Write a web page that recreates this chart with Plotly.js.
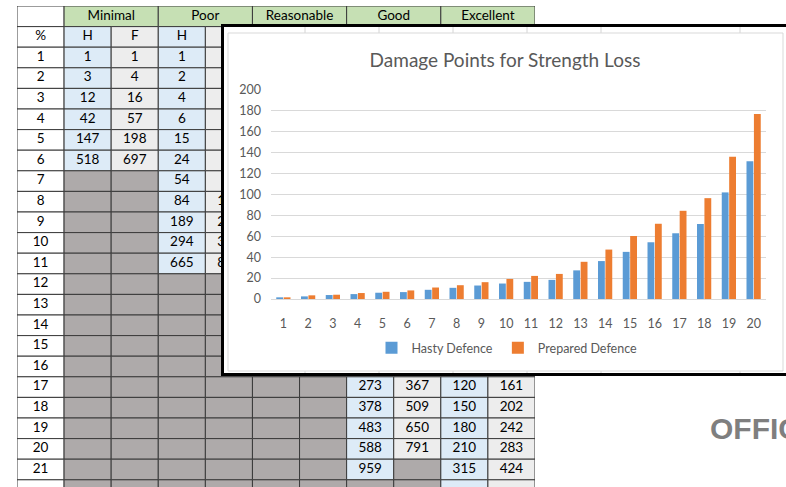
<!DOCTYPE html>
<html><head><meta charset="utf-8">
<script src="https://cdn.plot.ly/plotly-3.0.1.min.js"></script>
<style>html,body{margin:0;padding:0;background:#fff;overflow:hidden}</style>
</head><body><div id="chart" style="width:786px;height:487px"></div>
<script>
// ---------- Chart data ----------
const categories = ['1','2','3','4','5','6','7','8','9','10','11','12','13','14','15','16','17','18','19','20'];
const hastyDefence    = [1.6, 2.5, 3.8, 4.7, 6.0, 6.6, 8.8, 10.7, 12.9, 14.8, 16.4, 18.3, 27.4, 36.3, 45.1, 54.3, 62.9, 71.8, 102.0, 131.9];
const preparedDefence = [1.6, 3.5, 4.1, 5.7, 6.9, 8.2, 11.0, 13.2, 16.1, 19.2, 22.1, 24.0, 35.6, 47.3, 60.3, 72.0, 84.4, 96.5, 136.2, 177.1];
const yTicks = [0, 20, 40, 60, 80, 100, 120, 140, 160, 180, 200];
const seriesNames = ['Hasty Defence', 'Prepared Defence'];
const chartTitle = 'Damage Points for Strength Loss';

// ---------- Spreadsheet data ----------
const groups = ['Minimal', 'Poor', 'Reasonable', 'Good', 'Excellent'];
const subHeads = ['H', 'F'];
const cornerLabel = '%';
// last row is only partly visible at the bottom edge, its label is not shown
const rowLabels = ['1','2','3','4','5','6','7','8','9','10','11','12','13','14','15','16','17','18','19','20','21',''];
const X = 'x'; // blocked (grey) cell
const N = null; // cell hidden / empty
const minimalH    = [1, 3, 12, 42, 147, 518, X, X, X, X, X, X, X, X, X, X, X, X, X, X, X, X];
const minimalF    = [1, 4, 16, 57, 198, 697, X, X, X, X, X, X, X, X, X, X, X, X, X, X, X, X];
const poorH       = [1, 2, 4, 6, 15, 24, 54, 84, 189, 294, 665, X, X, X, X, X, X, X, X, X, X, X];
const poorF       = [N, N, N, N, N, N, N, 113, 254, 397, 898, X, X, X, X, X, X, X, X, X, X, X];
const reasonableH = [N, N, N, N, N, N, N, N, N, N, N, N, N, N, N, X, X, X, X, X, X, X];
const reasonableF = [N, N, N, N, N, N, N, N, N, N, N, N, N, N, N, X, X, X, X, X, X, X];
const goodH       = [N, N, N, N, N, N, N, N, N, N, N, N, N, N, N, N, 273, 378, 483, 588, 959, X];
const goodF       = [N, N, N, N, N, N, N, N, N, N, N, N, N, N, N, N, 367, 509, 650, 791, X, X];
const excellentH  = [N, N, N, N, N, N, N, N, N, N, N, N, N, N, N, N, 120, 150, 180, 210, 315, N];
const excellentF  = [N, N, N, N, N, N, N, N, N, N, N, N, N, N, N, N, 161, 202, 242, 283, 424, N];
const watermark = 'OFFICIAL';

// ---------- Build ----------
const W = 786, H = 487;
const sheetCols = [minimalH, minimalF, poorH, poorF, reasonableH, reasonableF, goodH, goodF, excellentH, excellentF];
const GREEN = '#C6E0B4', BLUE = '#DDEBF7', LIGHT = '#EDEDED', GREY = '#AEAAAA', BORDER = '#3a3a3a';
const FONT = 'Lato, "Open Sans", sans-serif';

const shapes = [];
const tx = [], ty = [], tt = [];
function cell(c0, c1, r, fill, label) {
  shapes.push({type:'rect', xref:'x', yref:'y', layer:'below',
    x0:c0-0.5, x1:c1+0.5, y0:r-0.5, y1:r+0.5,
    fillcolor:fill, line:{color:BORDER, width:1}});
  if (label !== null && label !== undefined && label !== X && label !== '') {
    tx.push((c0+c1)/2); ty.push(r); tt.push(String(label));
  }
}
// header row
cell(0, 0, 0, '#ffffff', null);
groups.forEach((g, i) => cell(2*i+1, 2*i+2, 0, GREEN, g));
// sub header row
cell(0, 0, 1, '#ffffff', cornerLabel);
for (let c = 1; c <= sheetCols.length; c++) cell(c, c, 1, (c % 2 === 1) ? BLUE : LIGHT, subHeads[(c-1) % 2]);
// data rows
rowLabels.forEach((lab, r) => {
  cell(0, 0, r+2, '#ffffff', lab);
  sheetCols.forEach((col, ci) => {
    const v = col[r];
    const fill = v === X ? GREY : (ci % 2 === 0 ? BLUE : LIGHT);
    cell(ci+1, ci+1, r+2, fill, v);
  });
});

// frame (pasted chart image) drawn on its own subplot, above the sheet
const frameShapes = [
  {type:'rect', xref:'x2', yref:'y2', layer:'below', x0:222.5, x1:830, y0:25.5, y1:374.5,
   fillcolor:'#ffffff', line:{color:'#000000', width:3}}
];
[305, 379, 453, 527, 601, 740].forEach(v => frameShapes.push({type:'line', xref:'x2', yref:'y2', layer:'below',
  x0:v, x1:v, y0:27, y1:373, line:{color:'#D4D4D4', width:1}}));
frameShapes.push({type:'rect', xref:'x2', yref:'y2', layer:'below', x0:228, x1:783, y0:33, y1:371,
  fillcolor:'#ffffff', line:{color:'#D9D9D9', width:1}});

const traces = [
  {type:'scatter', mode:'text', x:tx, y:ty, text:tt, xaxis:'x', yaxis:'y',
   textfont:{family:FONT, size:13.5, color:'#000000'}, hoverinfo:'skip', showlegend:false, cliponaxis:true},
  {type:'scatter', mode:'markers', x:[], y:[], xaxis:'x2', yaxis:'y2', hoverinfo:'skip', showlegend:false},
  {type:'bar', name:seriesNames[0], x:categories, y:hastyDefence, xaxis:'x3', yaxis:'y3',
   marker:{color:'#5B9BD5'}, hoverinfo:'skip'},
  {type:'bar', name:seriesNames[1], x:categories, y:preparedDefence, xaxis:'x3', yaxis:'y3',
   marker:{color:'#ED7D31'}, hoverinfo:'skip'}
];

const hidden = {visible:false, fixedrange:true};
const layout = {
  width:W, height:H, margin:{l:0, r:0, t:0, b:0},
  paper_bgcolor:'#ffffff', plot_bgcolor:'rgba(0,0,0,0)',
  showlegend:true, barmode:'group', bargap:0.4, bargroupgap:0.08,
  font:{family:FONT, color:'#595959'},
  xaxis: Object.assign({domain:[17/W, 535/W], range:[-0.5, 10.5]}, hidden),
  yaxis: Object.assign({domain:[0, 1-6/H], range:[-0.5 + 481/20.6, -0.5]}, hidden),
  xaxis2: Object.assign({domain:[220/W, 1], range:[220, 786], anchor:'y2'}, hidden),
  yaxis2: Object.assign({domain:[1-380/H, 1-20/H], range:[380, 20], anchor:'x2'}, hidden),
  xaxis3: {domain:[271/W, 766/W], anchor:'y3', type:'category', showgrid:false, zeroline:false,
    showline:true, linecolor:'#D9D9D9', linewidth:1, ticks:'', ticklabelstandoff:13,
    tickfont:{family:FONT, size:12.5, color:'#595959'}, fixedrange:true},
  yaxis3: {domain:[1-299/H, 1-90/H], anchor:'x3', range:[0, 200], tickvals:yTicks, showgrid:true,
    gridcolor:'#D9D9D9', gridwidth:1, zeroline:false, showline:false, ticks:'', ticklabelstandoff:9,
    tickfont:{family:FONT, size:12.5, color:'#595959'}, fixedrange:true},
  title:{text:chartTitle, x:505/W, xanchor:'center', y:1-60/H, yanchor:'middle', xref:'paper', yref:'paper',
    font:{family:FONT, size:19, color:'#595959'}},
  legend:{orientation:'h', x:507/W, xanchor:'center', y:1-348/H, yanchor:'middle',
    bgcolor:'rgba(0,0,0,0)', font:{family:FONT, size:12.5, color:'#595959'}, traceorder:'normal'},
  shapes: shapes.concat(frameShapes),
  annotations:[{text:watermark, xref:'paper', yref:'paper', x:708/W, xanchor:'left', y:1-428/H, yanchor:'middle',
    showarrow:false, font:{family:'"Liberation Sans", Arial, sans-serif', size:30, color:'#7F7F7F', weight:700}}]
};

Plotly.newPlot('chart', traces, layout, {staticPlot:true, displayModeBar:false});
</script>
</body></html>
